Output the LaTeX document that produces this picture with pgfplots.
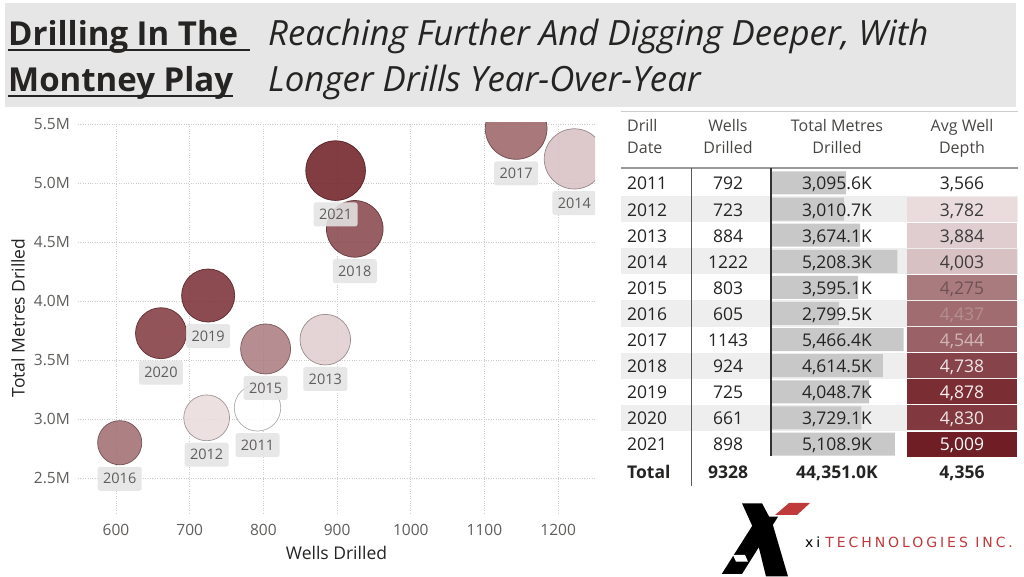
\documentclass[border=0pt]{standalone}
\usepackage{fontspec}
\setmainfont{Open Sans}
\newfontfamily\logofont[LetterSpace=21]{DejaVu Sans}
\usepackage{pgfplots}
\usepackage{pgfplotstable}
\pgfplotsset{compat=1.18}
\pgfkeys{/pgf/number format/assume math mode=true}

\definecolor{ink}{HTML}{252423}
\definecolor{tickgray}{HTML}{605E5C}
\definecolor{headgray}{HTML}{484644}
\definecolor{titleband}{HTML}{E6E6E6}
\definecolor{rowband}{HTML}{EEEEEE}
\definecolor{barfill}{HTML}{C8C8C8}
\definecolor{labelbox}{HTML}{E4E4E4}
\definecolor{logored}{HTML}{C0393B}

% colour scale for average well depth (positions = depth - 3566 m)
\pgfplotsset{colormap={depth}{
  rgb255(0pt)=(255,255,255)
  rgb255(216pt)=(234,220,221)
  rgb255(318pt)=(224,205,207)
  rgb255(437pt)=(216,193,195)
  rgb255(709pt)=(170,123,126)
  rgb255(871pt)=(160,108,112)
  rgb255(978pt)=(154,98,102)
  rgb255(1172pt)=(134,68,74)
  rgb255(1264pt)=(129,56,62)
  rgb255(1312pt)=(122,46,52)
  rgb255(1443pt)=(110,30,36)
}}

% Montney drilling by year: wells, total metres (K) and average depth (m)
\pgfplotstableread{
year wells metres depth row
2011 792  3095.6 3566 0
2012 723  3010.7 3782 1
2013 884  3674.1 3884 2
2014 1222 5208.3 4003 3
2015 803  3595.1 4275 4
2016 605  2799.5 4437 5
2017 1143 5466.4 4544 6
2018 924  4614.5 4738 7
2019 725  4048.7 4878 8
2020 661  3729.1 4830 9
2021 898  5108.9 5009 10
}\drill
% larger bubbles first so that small ones stay on top
\pgfplotstablesort[sort key=metres, sort cmp=float >]{\bysize}{\drill}

% heat-map cell of the depth column
\pgfdeclareplotmark{depthcell}{%
  \pgfpathrectangle{\pgfpoint{-55pt}{-12.5pt}}{\pgfpoint{110pt}{25pt}}%
  \pgfusepathqfill}

\newcommand\rowfont{\fontsize{17.5}{20}\selectfont}
\newcommand\hdrfont{\fontsize{16}{20}\selectfont}

\begin{document}
\begin{tikzpicture}[x=1pt,y=1pt]
\path[use as bounding box, fill=white] (0,0) rectangle (1024,577);

% ---------- title band ----------
\fill[titleband] (5,470) rectangle (1016,574);
\node[anchor=base west, inner sep=0, text=ink, font=\fontsize{33}{40}\selectfont\bfseries]
  at (8,531) {Drilling In The};
\node[anchor=base west, inner sep=0, text=ink, font=\fontsize{33}{40}\selectfont\bfseries]
  at (8,485) {Montney Play};
\draw[ink, line width=2.6pt] (8,527) -- (250,527);
\draw[ink, line width=2.6pt] (8,481) -- (233,481);
\node[anchor=base west, inner sep=0, text=ink, font=\fontsize{34.8}{40}\selectfont\itshape]
  at (268,531) {Reaching Further And Digging Deeper, With};
\node[anchor=base west, inner sep=0, text=ink, font=\fontsize{34.8}{40}\selectfont\itshape]
  at (268,485) {Longer Drills Year-Over-Year};

% ---------- bubble chart ----------
\begin{axis}[
  at={(78pt,64pt)}, anchor=south west,
  width=517pt, height=390pt, scale only axis,
  xmin=548.4, xmax=1250, ymin=2203, ymax=5513,
  xtick={600,700,...,1200},
  ytick={2500,3000,3500,4000,4500,5000,5500},
  yticklabels={2.5M,3.0M,3.5M,4.0M,4.5M,5.0M,5.5M},
  /pgf/number format/1000 sep={},
  grid=major,
  major grid style={dotted, line width=0.9pt, color=black!20},
  axis line style={draw=none},
  major tick length=0pt,
  tick label style={font=\fontsize{15.5}{18}\selectfont, text=tickgray, inner sep=0pt},
  xticklabel style={anchor=north, yshift=-11pt},
  yticklabel style={anchor=east, xshift=-8pt},
  xlabel={Wells Drilled}, ylabel={Total Metres Drilled},
  label style={font=\fontsize{17.5}{20}\selectfont, text=ink},
  xlabel style={at={(axis description cs:0.5,-0.102)}, anchor=center},
  ylabel style={at={(axis description cs:-0.116,0.5)}, anchor=center},
  colormap name=depth, point meta min=3566, point meta max=5009,
  clip marker paths=true,
]
% bubbles: radius grows with the square root of total metres, colour from average depth
\addplot[
  scatter, only marks, mark=*,
  point meta=explicit,
  visualization depends on={0.4174*sqrt(\thisrow{metres}) \as \rad},
  scatter/use mapped color={draw=mapped color!62!black, fill=mapped color,
    fill opacity=0.86, draw opacity=0.85},
  scatter/@pre marker code/.append style={/tikz/mark size=\rad},
  line width=0.7pt,
] table[x=wells, y=metres, meta=depth] {\bysize};
% year labels under each bubble
\addplot[
  draw=none, mark=none,
  point meta=explicit symbolic,
  visualization depends on={0.4174*sqrt(\thisrow{metres}) \as \rad},
  nodes near coords,
  every node near coord/.append style={anchor=center,
    yshift={-(\rad+14)},
    fill=labelbox, fill opacity=0.88, text opacity=1, text=tickgray,
    rounded corners=2.5pt, inner sep=0pt, minimum width=44pt, minimum height=24pt,
    font=\fontsize{14.5}{16}\selectfont},
] table[x=wells, y=metres, meta=year] {\bysize};
\end{axis}

% ---------- table: background ----------
\draw[black!20, line width=0.8pt] (621,466) -- (1018,466);
\foreach \r in {1,3,5,7,9} {
  \pgfmathsetmacro\yc{577-(183+26.1*\r)}
  \fill[rowband] (621,\yc-13.05) rectangle (1018,\yc+13.05);
}

% ---------- table: data bars and depth cells ----------
\begin{axis}[
  at={(771pt,119.95pt)}, anchor=south west,
  width=246pt, height=287.1pt, scale only axis,
  xmin=0, xmax=10144, ymin=-0.5, ymax=10.5, y dir=reverse,
  hide axis, clip=false,
  colormap name=depth, point meta min=3566, point meta max=5009,
]
\addplot[xbar, bar shift=0pt, bar width=23pt, fill=barfill, draw=none]
  table[x=metres, y=row] {\drill};
\addplot[scatter, only marks, mark=depthcell, point meta=explicit,
  scatter/use mapped color={fill=mapped color, draw=none}]
  table[x expr=7876, y=row, meta=depth] {\drill};
\end{axis}

% ---------- table: rules ----------
\draw[black!40, line width=1.3pt] (621,409) -- (1018,409);
\draw[black!65, line width=0.8pt] (691,409) -- (691,91);
\draw[black!80, line width=1.8pt] (771,409) -- (771,121);

% ---------- table: header ----------
\begin{scope}[every node/.style={inner sep=0, text=headgray, font=\hdrfont}]
  \node[anchor=base west] at (627,445.5) {Drill};
  \node[anchor=base west] at (627,423.5) {Date};
  \node[anchor=base] at (728,445.5) {Wells};
  \node[anchor=base] at (728,423.5) {Drilled};
  \node[anchor=base] at (837,445.5) {Total Metres};
  \node[anchor=base] at (837,423.5) {Drilled};
  \node[anchor=base] at (962,445.5) {Avg Well};
  \node[anchor=base] at (962,423.5) {Depth};
\end{scope}

% ---------- table: rows ----------
\foreach \r/\dc in {0/252423,1/3B3B3B,2/3B3B3B,3/403B3C,4/6E5254,5/B48E91,
                    6/D1B6B8,7/F2E6E7,8/F5EDEE,9/F2E6E7,10/FFFFFF} {
  \pgfplotstablegetelem{\r}{year}\of\drill \let\yy\pgfplotsretval
  \pgfplotstablegetelem{\r}{wells}\of\drill \let\ww\pgfplotsretval
  \pgfplotstablegetelem{\r}{metres}\of\drill \let\mm\pgfplotsretval
  \pgfplotstablegetelem{\r}{depth}\of\drill \let\dd\pgfplotsretval
  \definecolor{dcol}{HTML}{\dc}
  \pgfmathsetmacro\yb{577-(183+26.1*\r)-7}
  \node[anchor=base west, inner sep=0, font=\rowfont, text=ink] at (627,\yb) {\yy};
  \node[anchor=base, inner sep=0, font=\rowfont, text=ink] at (728,\yb) {\ww};
  \node[anchor=base, inner sep=0, font=\rowfont, text=ink] at (837,\yb)
    {\pgfmathprintnumber[fixed,fixed zerofill,precision=1,1000 sep={,}]{\mm}K};
  \node[anchor=base, inner sep=0, font=\rowfont, text=dcol] at (962,\yb)
    {\pgfmathprintnumber[fixed,precision=0,1000 sep={,}]{\dd}};
}
\begin{scope}[every node/.style={inner sep=0, text=ink, font=\rowfont\bfseries}]
  \node[anchor=base west] at (627,98) {Total};
  \node[anchor=base] at (728,98) {9328};
  \node[anchor=base] at (837,98) {44,351.0K};
  \node[anchor=base] at (962,98) {4,356};
\end{scope}

% ---------- logo ----------
\fill[black] (742,73.7) -- (762,73.7) -- (772,55) -- (788,0.5) -- (766,0.5) -- (755,45) -- cycle;
\fill[black] (721.7,3) -- (742,3) -- (778,60.3) -- (758,60.3) -- cycle;
\fill[white] (733,22) -- (745,22) -- (748,15.3) -- (736,15.3) -- cycle;
\fill[logored] (775,62) -- (789,74) -- (810,74) -- (797,62) -- cycle;
\node[anchor=base west, inner sep=0, font=\logofont\fontsize{14}{16}\selectfont]
  at (805,29) {xi\hspace{5pt}\textcolor{logored}{TECHNOLOGIES INC.}};
\end{tikzpicture}
\end{document}
